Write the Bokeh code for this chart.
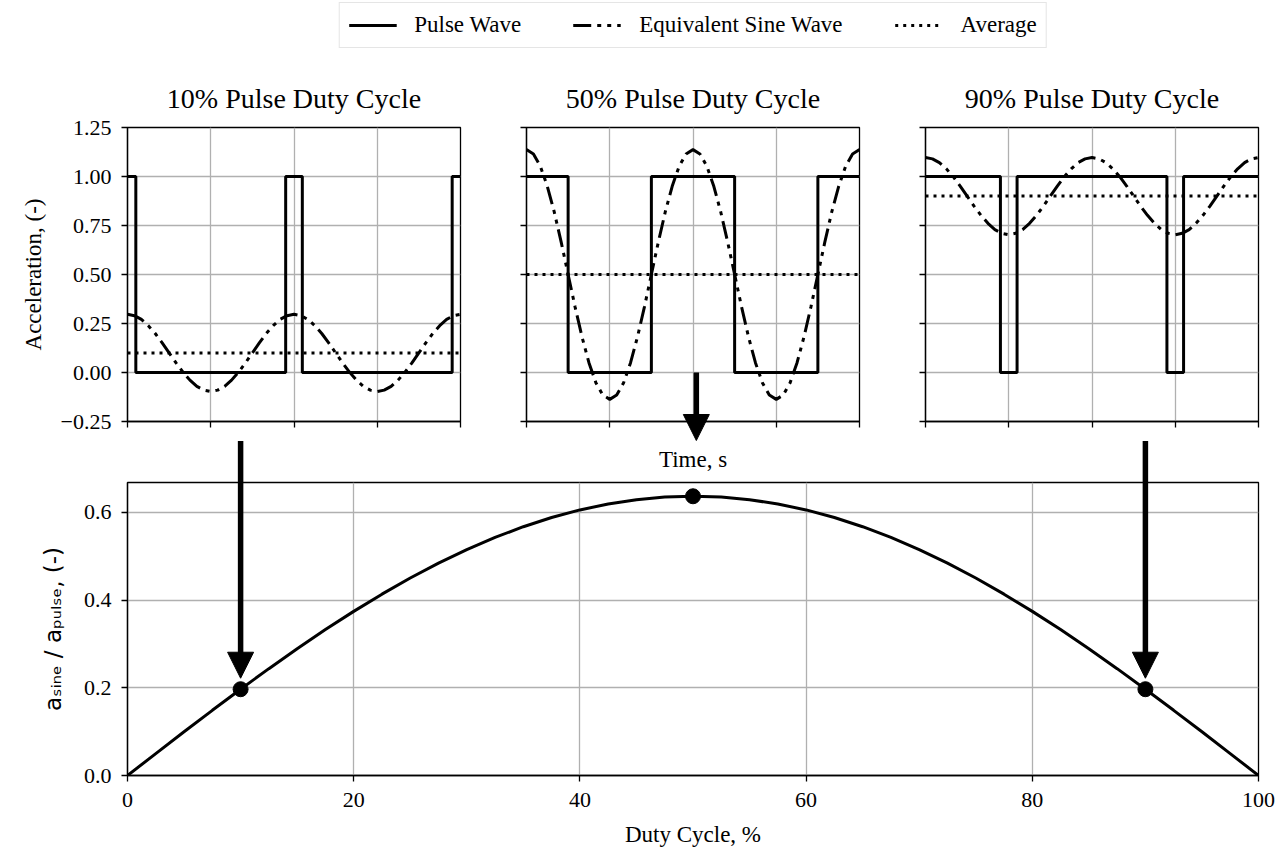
from bokeh.plotting import figure
from bokeh.layouts import column, row
from bokeh.models import Range1d, FixedTicker, CustomJSTickFormatter, Legend, LegendItem
from bokeh.core.properties import value
from bokeh.embed import file_html
from bokeh.resources import INLINE

# ------------------------------------------------------------------ data
panel_titles = ["10% Pulse Duty Cycle", "50% Pulse Duty Cycle", "90% Pulse Duty Cycle"]

# pulse waves (time in periods, acceleration normalised)
pulse_t = [
    [0, 0.05, 0.05, 0.95, 0.95, 1.05, 1.05, 1.95, 1.95, 2.0],
    [0, 0.25, 0.25, 0.75, 0.75, 1.25, 1.25, 1.75, 1.75, 2.0],
    [0, 0.45, 0.45, 0.55, 0.55, 1.45, 1.45, 1.55, 1.55, 2.0],
]
pulse_a = [
    [1, 1, 0, 0, 1, 1, 0, 0, 1, 1],
    [1, 1, 0, 0, 1, 1, 0, 0, 1, 1],
    [1, 1, 0, 0, 1, 1, 0, 0, 1, 1],
]

# equivalent sine wave, one period read every 1/24 period (repeats twice)
sine_10 = [0.297, 0.290, 0.271, 0.239, 0.199, 0.151, 0.100, 0.049, 0.002, -0.039, -0.071, -0.090,
           -0.097, -0.090, -0.071, -0.039, 0.002, 0.049, 0.100, 0.151, 0.199, 0.239, 0.271, 0.290, 0.297]
sine_50 = [1.137, 1.115, 1.052, 0.950, 0.819, 0.665, 0.500, 0.335, 0.182, 0.050, -0.052, -0.115,
           -0.137, -0.115, -0.052, 0.050, 0.182, 0.335, 0.500, 0.665, 0.819, 0.950, 1.052, 1.115, 1.137]
sine_90 = [1.097, 1.090, 1.071, 1.039, 0.999, 0.951, 0.900, 0.849, 0.802, 0.761, 0.729, 0.710,
           0.703, 0.710, 0.729, 0.761, 0.802, 0.849, 0.900, 0.951, 0.999, 1.039, 1.071, 1.090, 1.097]
sine_values = [sine_10, sine_50, sine_90]

average_levels = [0.1, 0.5, 0.9]

time_ticks = [0, 0.5, 1.0, 1.5, 2.0]
acc_ticks = [-0.25, 0.0, 0.25, 0.5, 0.75, 1.0, 1.25]
acc_tick_labels = ["\u22120.25", "0.00", "0.25", "0.50", "0.75", "1.00", "1.25"]

# sine amplitude ratio vs duty cycle
duty_pct = [0, 2.5, 5, 7.5, 10, 12.5, 15, 17.5, 20, 22.5, 25, 27.5, 30, 32.5, 35, 37.5, 40, 42.5,
            45, 47.5, 50, 52.5, 55, 57.5, 60, 62.5, 65, 67.5, 70, 72.5, 75, 77.5, 80, 82.5, 85,
            87.5, 90, 92.5, 95, 97.5, 100]
amp_ratio = [0.0, 0.0500, 0.0996, 0.1486, 0.1967, 0.2436, 0.2890, 0.3326, 0.3742, 0.4134, 0.4502,
             0.4841, 0.5150, 0.5428, 0.5672, 0.5881, 0.6055, 0.6190, 0.6288, 0.6347, 0.6366,
             0.6347, 0.6288, 0.6190, 0.6055, 0.5881, 0.5672, 0.5428, 0.5150, 0.4841, 0.4502,
             0.4134, 0.3742, 0.3326, 0.2890, 0.2436, 0.1967, 0.1486, 0.0996, 0.0500, 0.0]
marked_duty = [10, 50, 90]
marked_ratio = [0.1967, 0.6366, 0.1967]

duty_ticks = [0, 20, 40, 60, 80, 100]
ratio_ticks = [0.0, 0.2, 0.4, 0.6]
ratio_tick_labels = ["0.0", "0.2", "0.4", "0.6"]

legend_labels = ["Pulse Wave", "Equivalent Sine Wave", "Average"]
time_label = "Time, s"

# ------------------------------------------------------------------ styles / layout
SERIF = "Liberation Serif"
GRID = "#b0b0b0"
LW = 3
SINE_DASH = "18 6 4 6 4 6"
AVG_DASH = "3 5"
EMPTY = CustomJSTickFormatter(code="return ''")

TOTAL_W = 1284
LEG_H = 50
TOP_H = 391
TOP_BORDER_TOP, TOP_BORDER_BOTTOM = 77, 20
TOP_FRAME_H = TOP_H - TOP_BORDER_TOP - TOP_BORDER_BOTTOM
TOP_FRAME_W = 333
BOT_H = 408
BOT_BORDER_TOP, BOT_BORDER_BOTTOM = 41, 74
BOT_BORDER_LEFT, BOT_BORDER_RIGHT = 127, 26
BOT_FRAME_H = BOT_H - BOT_BORDER_TOP - BOT_BORDER_BOTTOM
BOT_FRAME_W = TOTAL_W - BOT_BORDER_LEFT - BOT_BORDER_RIGHT
Y_MAX = 0.668


def style_axes(p):
    p.outline_line_color = "black"
    p.outline_line_width = 1.3
    for ax in (p.xaxis[0], p.yaxis[0]):
        ax.axis_line_color = "black"
        ax.axis_line_width = 1.3
        ax.major_tick_line_color = "black"
        ax.major_tick_line_width = 1.3
        ax.major_tick_out = 6
        ax.major_tick_in = 0
        ax.minor_tick_out = 0
        ax.minor_tick_in = 0
        ax.major_label_text_font = SERIF
        ax.major_label_text_font_size = "22px"
        ax.major_label_text_color = "black"
        ax.major_label_standoff = 10
        ax.axis_label_text_font = SERIF
        ax.axis_label_text_font_size = "23px"
        ax.axis_label_text_font_style = "normal"
        ax.axis_label_text_color = "black"
    p.grid.grid_line_color = GRID
    p.grid.grid_line_width = 1.3
    p.background_fill_color = "white"
    p.border_fill_color = "white"


def draw_arrow(p, x, y_start, y_tip, ppx, ppy):
    """Down-pointing arrow drawn above everything (not clipped to the frame)."""
    head = 26
    p.segment(x0=[x], y0=[y_start], x1=[x], y1=[y_tip + (head - 4) / ppy],
              line_color="black", line_width=5.5, level="overlay")
    p.patch(x=[x - head / 2 / ppx, x + head / 2 / ppx, x],
            y=[y_tip + head / ppy, y_tip + head / ppy, y_tip],
            fill_color="black", line_color="black", line_width=1, level="overlay")


# ------------------------------------------------------------------ legend strip
lf = figure(width=TOTAL_W, height=LEG_H, output_backend="svg", toolbar_location=None,
            x_range=Range1d(0, 1), y_range=Range1d(0, 1),
            min_border_left=BOT_BORDER_LEFT, min_border_right=BOT_BORDER_RIGHT,
            min_border_top=0, min_border_bottom=0)
lf.axis.visible = False
lf.grid.visible = False
lf.outline_line_color = None
lf.border_fill_color = "white"
off = [-10, -9]  # outside the strip's range: only the legend swatches are seen
lr1 = lf.line(x=off, y=off, line_color="black", line_width=LW)
lr2 = lf.line(x=off, y=off, line_color="black", line_width=LW, line_dash=SINE_DASH)
lr3 = lf.line(x=off, y=off, line_color="black", line_width=LW, line_dash=AVG_DASH)
legend = Legend(items=[LegendItem(label=legend_labels[0], renderers=[lr1]),
                       LegendItem(label=legend_labels[1], renderers=[lr2]),
                       LegendItem(label=legend_labels[2], renderers=[lr3])],
                orientation="horizontal", location="center",
                label_text_font=SERIF, label_text_font_size="23px", label_text_color="black",
                glyph_width=48, glyph_height=20, label_standoff=18, spacing=52,
                padding=9, margin=0, border_line_color="#cccccc", border_line_width=1.3,
                background_fill_color="white", background_fill_alpha=1.0)
lf.add_layout(legend, "center")

# ------------------------------------------------------------------ top panels
top_widths = [493, 398, 393]
top_left = [127, 33, 34]
top_right = [33, 32, 26]
tops = []
for i in range(3):
    p = figure(width=top_widths[i], height=TOP_H, output_backend="svg", toolbar_location=None,
               x_range=Range1d(0, 2), y_range=Range1d(-0.25, 1.25), title=panel_titles[i],
               min_border_left=top_left[i], min_border_right=top_right[i],
               min_border_top=TOP_BORDER_TOP, min_border_bottom=TOP_BORDER_BOTTOM)
    style_axes(p)
    p.title.text_font = SERIF
    p.title.text_font_size = "28px"
    p.title.text_font_style = "normal"
    p.title.text_color = "black"
    p.title.align = "center"
    p.title.standoff = 27
    p.xaxis.ticker = FixedTicker(ticks=time_ticks)
    p.yaxis.ticker = FixedTicker(ticks=acc_ticks)
    p.xaxis.formatter = EMPTY
    p.xaxis.major_label_standoff = 0
    if i == 0:
        p.yaxis.major_label_overrides = dict(zip(acc_ticks, acc_tick_labels))
        p.yaxis.axis_label = "Acceleration, (-)"
        p.yaxis.axis_label_standoff = 12
    else:
        p.yaxis.formatter = EMPTY
        p.yaxis.major_label_standoff = 0

    per = sine_values[i]
    sine_y = per + per[1:]
    sine_x = [k / 24 for k in range(len(sine_y))]
    p.line(pulse_t[i], pulse_a[i], line_color="black", line_width=LW)
    p.line(sine_x, sine_y, line_color="black", line_width=LW, line_dash=SINE_DASH)
    p.line([time_ticks[0], time_ticks[-1]], [average_levels[i]] * 2, line_color="black",
           line_width=LW, line_dash=AVG_DASH)
    tops.append(p)

# middle arrow (inside the 50 % panel, pointing down below its axis)
top_ppy = TOP_FRAME_H / 1.5
top_ppx = TOP_FRAME_W / 2.0
draw_arrow(tops[1], 1.02, 0.0, -0.25 - 19 / top_ppy, top_ppx, top_ppy)

# ------------------------------------------------------------------ bottom panel
b = figure(width=TOTAL_W, height=BOT_H, output_backend="svg", toolbar_location=None,
           x_range=Range1d(0, 100), y_range=Range1d(0, Y_MAX),
           min_border_left=BOT_BORDER_LEFT, min_border_right=BOT_BORDER_RIGHT,
           min_border_top=BOT_BORDER_TOP, min_border_bottom=BOT_BORDER_BOTTOM)
style_axes(b)
b.xaxis.ticker = FixedTicker(ticks=duty_ticks)
b.yaxis.ticker = FixedTicker(ticks=ratio_ticks)
b.yaxis.major_label_overrides = dict(zip(ratio_ticks, ratio_tick_labels))
b.xaxis.axis_label = "Duty Cycle, %"
b.xaxis.major_label_standoff = 11
b.xaxis.axis_label_standoff = 12
b.yaxis.axis_label = "a\u209b\u1d62\u2099\u2091 / a\u209a\u1d64\u2097\u209b\u2091, (-)"
b.yaxis.axis_label_text_font = "DejaVu Sans"
b.yaxis.axis_label_standoff = 15

b.line(duty_pct, amp_ratio, line_color="black", line_width=LW)
b.scatter(marked_duty, marked_ratio, size=15, color="black")

bot_ppy = BOT_FRAME_H / Y_MAX
bot_ppx = BOT_FRAME_W / 100.0
for k in (0, 2):
    draw_arrow(b, marked_duty[k], Y_MAX + 45 / bot_ppy, marked_ratio[k] + 11 / bot_ppy,
               bot_ppx, bot_ppy)

# x-axis label of the (shared) time axis of the top panels, sitting above the lower plot
b.text(x=[marked_duty[1]], y=[Y_MAX + 23 / bot_ppy], text=[time_label],
       text_align="center", text_baseline="middle", text_font=value(SERIF),
       text_font_size="23px", text_color="black", level="overlay")

layout = column(lf, row(*tops), b)
open("out.html", "w").write(file_html(layout, INLINE))
